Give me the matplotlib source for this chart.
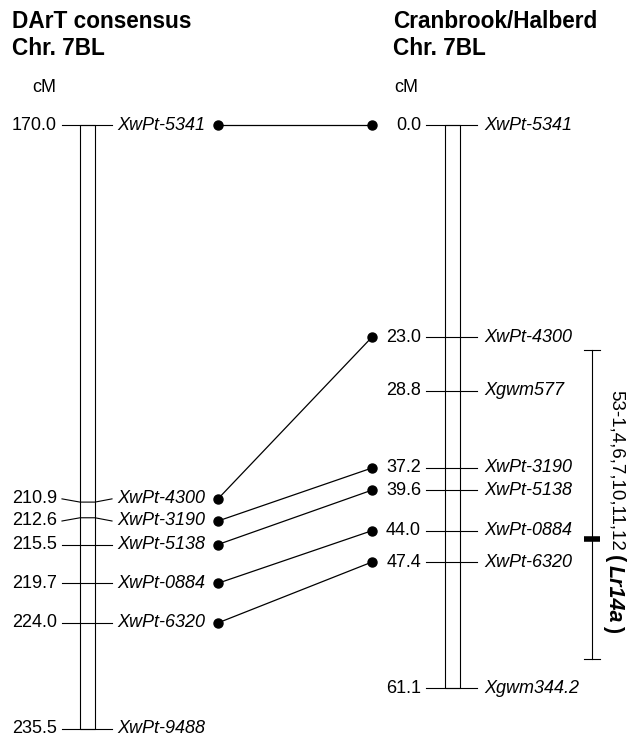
import matplotlib
matplotlib.use("Agg")
import matplotlib.pyplot as plt
from matplotlib.patches import Rectangle

plt.rcParams['font.family'] = ['Liberation Sans', 'DejaVu Sans']

# DArT consensus map, chromosome 7BL
left_names = ["XwPt-5341", "XwPt-4300", "XwPt-3190", "XwPt-5138",
              "XwPt-0884", "XwPt-6320", "XwPt-9488"]
left_cm = [170.0, 210.9, 212.6, 215.5, 219.7, 224.0, 235.5]

# Cranbrook/Halberd map, chromosome 7BL
right_names = ["XwPt-5341", "XwPt-4300", "Xgwm577", "XwPt-3190",
               "XwPt-5138", "XwPt-0884", "XwPt-6320", "Xgwm344.2"]
right_cm = [0.0, 23.0, 28.8, 37.2, 39.6, 44.0, 47.4, 61.1]

# markers shared between the two maps
shared = ["XwPt-5341", "XwPt-4300", "XwPt-3190", "XwPt-5138",
          "XwPt-0884", "XwPt-6320"]

# QTL interval for Lr14a on the Cranbrook/Halberd map
qtl_lo, qtl_peak, qtl_hi = 24.4, 44.9, 57.9
qtl_lines = ["53-1,4,6,7,10,11,12", "(", "Lr14a", ")"]

PX = 9.22      # pixels per cM
TOP = 125      # pixel row of the first marker
MIN_GAP = 2.4  # cM, minimum spacing between labels


def spread(pos):
    out = list(pos)
    for i in range(1, len(out)):
        if out[i] - out[i - 1] < MIN_GAP:
            mid = (out[i] + out[i - 1]) / 2
            out[i - 1] = mid - MIN_GAP / 2
            out[i] = mid + MIN_GAP / 2
    return out


fig = plt.figure(figsize=(6.3, 7.43), dpi=100)
ax = fig.add_axes([0, 0, 1, 1])
ax.set_xlim(0, 630)
ax.set_ylim((743 - TOP) / PX, -TOP / PX)
ax.axis('off')


def draw_map(cm, names, start, bar_x, tick_l, tick_r, val_x, name_x):
    rel = [c - start for c in cm]
    lab = spread(rel)
    ax.add_patch(Rectangle((bar_x, 0), 15, rel[-1], facecolor='white',
                           edgecolor='black', lw=0.8, zorder=1))
    for r, l, c, n in zip(rel, lab, cm, names):
        ax.plot([tick_l, bar_x, bar_x + 15, tick_r], [l, r, r, l],
                color='black', lw=0.8, zorder=2)
        ax.text(val_x, l, f"{c:.1f}", ha='right', va='center', fontsize=13)
        ax.text(name_x, l, n, ha='left', va='center', fontsize=13,
                style='italic')
    return dict(zip(names, lab))


lpos = draw_map(left_cm, left_names, left_cm[0], 80, 62, 112, 57, 117)
rpos = draw_map(right_cm, right_names, right_cm[0], 445, 426, 477, 421, 484)

for m in shared:
    ax.plot([218, 372], [lpos[m], rpos[m]], color='black', lw=0.9,
            marker='o', markersize=6.5, zorder=3)

# titles
for x, t in [(12, "DArT consensus"), (393, "Cranbrook/Halberd")]:
    fig.text(x / 630, 1 - 27.5 / 743, t, ha='left', va='baseline',
             fontsize=16.3, fontweight='bold')
    fig.text(x / 630, 1 - 55 / 743, "Chr. 7BL", ha='left', va='baseline',
             fontsize=16.3, fontweight='bold')
fig.text(44 / 630, 1 - 87 / 743, "cM", ha='center', va='center', fontsize=13)
fig.text(406 / 630, 1 - 87 / 743, "cM", ha='center', va='center', fontsize=13)

# QTL bar
ax.plot([592, 592], [qtl_lo, qtl_hi], color='black', lw=0.8)
ax.plot([584, 600], [qtl_lo, qtl_lo], color='black', lw=0.8)
ax.plot([584, 600], [qtl_hi, qtl_hi], color='black', lw=0.8)
ax.plot([584, 600], [qtl_peak, qtl_peak], color='black', lw=4,
        solid_capstyle='butt')

# vertical QTL label, written piece by piece from the top down
styles = [dict(fontsize=13.5, x=616, gap=4),
          dict(fontsize=15.5, fontweight='bold', x=614, gap=3),
          dict(fontsize=15.5, fontweight='bold', style='italic', x=614, gap=2),
          dict(fontsize=15.5, fontweight='bold', x=614, gap=0)]
renderer = fig.canvas.get_renderer()
y_pix = 390
for s, st in zip(qtl_lines, styles):
    st = dict(st)
    x = st.pop('x')
    gap = st.pop('gap')
    t = ax.text(x, (y_pix - TOP) / PX, s, rotation=-90, ha='center',
                va='top', **st)
    bb = t.get_window_extent(renderer)
    y_pix = 743 - bb.y0 + gap

fig.savefig("out.png", dpi=100)
